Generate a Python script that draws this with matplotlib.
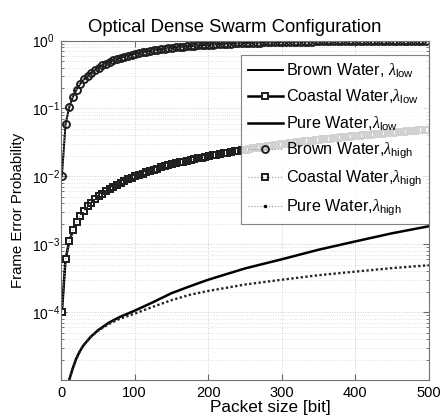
import numpy as np
import matplotlib
matplotlib.use("Agg")
import matplotlib.pyplot as plt
from matplotlib.lines import Line2D
from matplotlib.ticker import LogLocator, NullFormatter

plt.rcParams['font.family'] = ['Liberation Sans', 'DejaVu Sans']
plt.rcParams['mathtext.fontset'] = 'custom'
plt.rcParams['mathtext.rm'] = 'Liberation Sans'
plt.rcParams['mathtext.it'] = 'Liberation Serif:italic'

# packet sizes where markers sit (every 5 bits)
n_mark = np.arange(1, 500, 5)

# Brown water (top curve, circles)
fep_brown = [0.010, 0.0585, 0.1047, 0.1485, 0.190, 0.230, 0.268, 0.304, 0.338, 0.370,
             0.401, 0.430, 0.458, 0.485, 0.510, 0.534, 0.557, 0.579, 0.599, 0.619,
             0.638, 0.655, 0.672, 0.688, 0.704, 0.718, 0.732, 0.745, 0.758, 0.769,
             0.781, 0.792, 0.802, 0.811, 0.821, 0.829, 0.838, 0.846, 0.853, 0.861,
             0.867, 0.874, 0.880, 0.886, 0.891, 0.897, 0.902, 0.907, 0.911, 0.916,
             0.920, 0.924, 0.927, 0.931, 0.934, 0.938, 0.941, 0.944, 0.946, 0.949,
             0.951, 0.954, 0.956, 0.958, 0.960, 0.962, 0.964, 0.966, 0.967, 0.969,
             0.971, 0.972, 0.973, 0.975, 0.976, 0.977, 0.978, 0.979, 0.980, 0.981,
             0.982, 0.983, 0.984, 0.985, 0.985, 0.986, 0.987, 0.987, 0.988, 0.989,
             0.989, 0.990, 0.990, 0.991, 0.991, 0.992, 0.992, 0.992, 0.993, 0.993]

# Coastal water (second curve, squares)
fep_coastal = [0.0001, 0.0006, 0.0011, 0.0016, 0.0021, 0.0026, 0.0031, 0.0036, 0.0041, 0.0046,
               0.00509, 0.00558, 0.00608, 0.00658, 0.00707, 0.00757, 0.00807, 0.00856, 0.00906, 0.00955,
               0.0100, 0.0105, 0.0110, 0.0115, 0.0120, 0.0125, 0.0130, 0.0135, 0.0140, 0.0145,
               0.0150, 0.0155, 0.0160, 0.0165, 0.0170, 0.0174, 0.0179, 0.0184, 0.0189, 0.0194,
               0.0199, 0.0204, 0.0209, 0.0214, 0.0219, 0.0223, 0.0228, 0.0233, 0.0238, 0.0243,
               0.0248, 0.0253, 0.0258, 0.0263, 0.0267, 0.0272, 0.0277, 0.0282, 0.0287, 0.0292,
               0.0297, 0.0302, 0.0306, 0.0311, 0.0316, 0.0321, 0.0326, 0.0331, 0.0335, 0.0340,
               0.0345, 0.0350, 0.0355, 0.0359, 0.0364, 0.0369, 0.0374, 0.0379, 0.0383, 0.0388,
               0.0393, 0.0398, 0.0403, 0.0408, 0.0412, 0.0417, 0.0422, 0.0427, 0.0431, 0.0436,
               0.0441, 0.0446, 0.0450, 0.0455, 0.0460, 0.0465, 0.0469, 0.0474, 0.0479, 0.0484]

# Pure water (bottom curves)
n_pure = [1, 5, 8, 11, 15, 20, 25, 30, 40, 50, 65, 80, 100, 125, 150, 175, 200,
          250, 300, 350, 400, 450, 500]
fep_pure_low = [9e-7, 4.5e-6, 7.3e-6, 1.0e-5, 1.4e-5, 2.0e-5, 2.6e-5, 3.2e-5, 4.3e-5, 5.4e-5,
                7.0e-5, 8.5e-5, 1.05e-4, 1.4e-4, 1.9e-4, 2.4e-4, 3.0e-4,
                4.4e-4, 6.0e-4, 8.3e-4, 1.1e-3, 1.45e-3, 1.84e-3]
fep_pure_high = [9e-7, 4.5e-6, 7.3e-6, 1.0e-5, 1.4e-5, 2.0e-5, 2.6e-5, 3.2e-5, 4.3e-5, 5.3e-5,
                 6.7e-5, 8.0e-5, 9.5e-5, 1.2e-4, 1.5e-4, 1.8e-4, 2.05e-4,
                 2.55e-4, 3.0e-4, 3.5e-4, 3.95e-4, 4.45e-4, 4.9e-4]

labels = [r'Brown Water, $\mathit{\lambda}_{\rm low}$',
          r'Coastal Water,$\mathit{\lambda}_{\rm low}$',
          r'Pure Water,$\mathit{\lambda}_{\rm low}$',
          r'Brown Water,$\mathit{\lambda}_{\rm high}$',
          r'Coastal Water,$\mathit{\lambda}_{\rm high}$',
          r'Pure Water,$\mathit{\lambda}_{\rm high}$']

fig = plt.figure(figsize=(4.43, 4.16), dpi=100)
ax = fig.add_axes([0.138, 0.0865, 0.830, 0.816])

h1, = ax.plot(n_mark, fep_brown, color='black', lw=1.4)
h2, = ax.plot(n_mark, fep_coastal, color='black', lw=1.8, marker='s', ms=4.4,
              mfc='white', mec='0.12', mew=1.4)
h3, = ax.plot(n_pure, fep_pure_low, color='black', lw=1.8)
h4, = ax.plot(n_mark, fep_brown, color='0.6', lw=0.8, ls=':', marker='o', ms=5,
              mfc='none', mec='0.12', mew=1.4)
h5, = ax.plot(n_mark, fep_coastal, color='0.6', lw=0.8, ls=':', marker='s', ms=4.4,
              mfc='none', mec='0.12', mew=1.4)
ax.plot(n_pure, fep_pure_high, color='0.15', lw=1.7, ls=(0, (1, 1)))
h6 = Line2D([], [], color='0.6', lw=0.8, ls=':', marker='.', ms=3, mfc='black', mec='black')

ax.set_yscale('log')
ax.set_xlim(0, 500)
ax.set_ylim(1e-5, 1)
ax.set_xticks([0, 100, 200, 300, 400, 500])
ax.set_yticks([1e-4, 1e-3, 1e-2, 1e-1, 1e0])
ax.yaxis.set_minor_locator(LogLocator(base=10, subs=np.arange(2, 10)))
ax.yaxis.set_minor_formatter(NullFormatter())

ax.grid(True, which='major', color='0.8', ls=':', lw=0.7)
ax.grid(True, which='minor', axis='y', color='0.85', ls=':', lw=0.6)
ax.tick_params(which='both', direction='in', top=True, right=True, labelsize=10.5,
               color='0.4')
ax.tick_params(axis='y', labelsize=10)
ax.tick_params(which='major', length=4)
ax.tick_params(which='minor', length=2)
# MATLAB-style: exponent labels start at the same x
ax.tick_params(axis='y', pad=21)
for t in ax.get_yticklabels():
    t.set_horizontalalignment('left')
ax.tick_params(axis='x', pad=4)
for s in ax.spines.values():
    s.set_color('0.45')
    s.set_linewidth(0.8)

ax.set_title('Optical Dense Swarm Configuration', fontsize=13.3, pad=6, x=0.473)
ax.set_xlabel('Packet size [bit]', fontsize=12.3, labelpad=2)
ax.xaxis.set_label_coords(0.568, -0.058)
ax.set_ylabel('Frame Error Probability', fontsize=10.8, labelpad=5)

leg = ax.legend([h1, h2, h3, h4, h5, h6], labels, loc='upper right',
                bbox_to_anchor=(1.0, 0.958), fontsize=11.6, frameon=True, fancybox=False,
                handlelength=2.2, handletextpad=0.2, labelspacing=0.5,
                borderpad=0.4, borderaxespad=0.0)
leg.get_frame().set_edgecolor('0.4')
leg.get_frame().set_linewidth(0.8)

fig.savefig('out.png', dpi=100)
